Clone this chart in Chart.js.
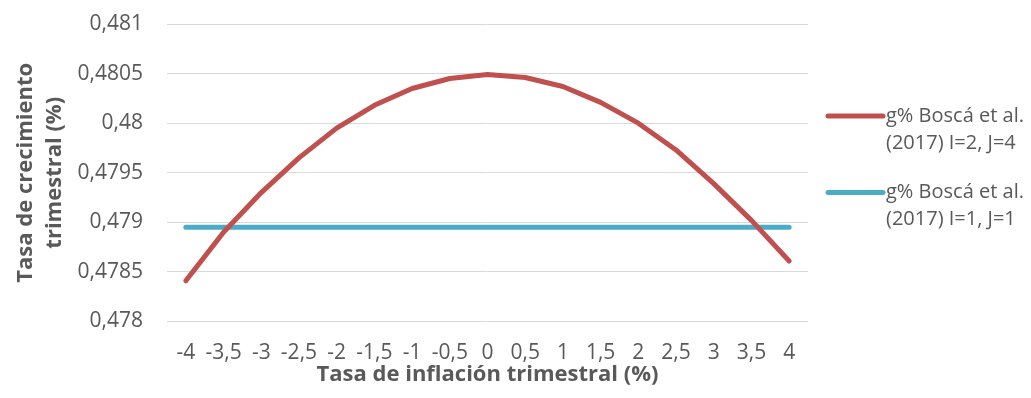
<!DOCTYPE html>
<html lang="es">
<head>
<meta charset="utf-8">
<title>Tasa de crecimiento trimestral</title>
<script src="https://cdn.jsdelivr.net/npm/chart.js@4/dist/chart.umd.min.js"></script>
<style>
  html, body { margin: 0; padding: 0; background: #ffffff; }
  #wrap { width: 1031px; height: 398px; position: relative; }
</style>
</head>
<body>
<div id="wrap"><canvas id="chart" width="1031" height="398"></canvas></div>
<script>
// Categorías: tasa de inflación trimestral (%)
const inflacion = ['-4', '-3,5', '-3', '-2,5', '-2', '-1,5', '-1', '-0,5', '0',
                   '0,5', '1', '1,5', '2', '2,5', '3', '3,5', '4'];

// g% Boscá et al. (2017) I=2, J=4
const crecimientoI2J4 = [0.47841, 0.47890, 0.47930, 0.47965, 0.47995, 0.48018, 0.48035, 0.48045, 0.48049,
                         0.48046, 0.48037, 0.48021, 0.48000, 0.47973, 0.47939, 0.47902, 0.47861];

// g% Boscá et al. (2017) I=1, J=1
const crecimientoI1J1 = [0.47895, 0.47895, 0.47895, 0.47895, 0.47895, 0.47895, 0.47895, 0.47895, 0.47895,
                         0.47895, 0.47895, 0.47895, 0.47895, 0.47895, 0.47895, 0.47895, 0.47895];

const etiquetasSeries = [
  ['g% Boscá et al.', '(2017) I=2, J=4'],
  ['g% Boscá et al.', '(2017) I=1, J=1']
];

const ejeY = { min: 0.478, max: 0.481, paso: 0.0005 };

const GRIS_TEXTO = '#595959';
const FUENTE = '"Open Sans", "DejaVu Sans", sans-serif';

const formatoDecimal = v => Number(v.toFixed(4)).toString().replace('.', ',');

// Leyenda a la derecha con etiquetas en dos líneas
const leyendaDerecha = {
  id: 'leyendaDerecha',
  afterDraw(chart) {
    const { ctx, chartArea } = chart;
    const x0 = chartArea.right + 20;
    const largo = 55;
    const salto = 27;
    const separacion = 76.5;
    const y0 = chartArea.top + 92;
    ctx.save();
    ctx.font = '20px ' + FUENTE;
    ctx.textBaseline = 'middle';
    ctx.textAlign = 'left';
    chart.data.datasets.forEach((ds, i) => {
      const y = y0 + i * separacion;
      ctx.strokeStyle = ds.borderColor;
      ctx.lineWidth = 5;
      ctx.lineCap = 'round';
      ctx.beginPath();
      ctx.moveTo(x0, y);
      ctx.lineTo(x0 + largo, y);
      ctx.stroke();
      ctx.fillStyle = GRIS_TEXTO;
      const lineas = Array.isArray(ds.label) ? ds.label : [ds.label];
      lineas.forEach((t, k) => ctx.fillText(t, x0 + largo + 3, y + k * salto));
    });
    ctx.restore();
  }
};

new Chart(document.getElementById('chart'), {
  type: 'line',
  data: {
    labels: inflacion,
    datasets: [
      {
        label: etiquetasSeries[0],
        data: crecimientoI2J4,
        borderColor: '#C0504D',
        backgroundColor: '#C0504D',
        borderWidth: 5,
        borderCapStyle: 'round',
        borderJoinStyle: 'round',
        pointRadius: 0,
        tension: 0,
        fill: false
      },
      {
        label: etiquetasSeries[1],
        data: crecimientoI1J1,
        borderColor: '#4BACC6',
        backgroundColor: '#4BACC6',
        borderWidth: 5,
        borderCapStyle: 'round',
        borderJoinStyle: 'round',
        pointRadius: 0,
        tension: 0,
        fill: false
      }
    ]
  },
  options: {
    responsive: false,
    animation: false,
    events: [],
    layout: { padding: { top: 24, right: 223, bottom: 0, left: 0 } },
    plugins: {
      legend: { display: false },
      tooltip: { enabled: false }
    },
    scales: {
      x: {
        type: 'category',
        offset: true,
        grid: { display: false, drawTicks: false },
        border: { display: false },
        ticks: {
          color: GRIS_TEXTO,
          font: { family: FUENTE, size: 21 },
          padding: 19,
          maxRotation: 0,
          autoSkip: false
        },
        title: {
          display: true,
          text: 'Tasa de inflación trimestral (%)',
          color: GRIS_TEXTO,
          font: { family: FUENTE, size: 22, weight: 'bold' },
          padding: { top: 0, bottom: 10 }
        },
        afterFit(scale) { scale.height = 76.5; }
      },
      y: {
        min: ejeY.min,
        max: ejeY.max,
        grid: { color: '#D9D9D9', lineWidth: 1, drawTicks: false },
        border: { display: false },
        ticks: {
          stepSize: ejeY.paso,
          color: GRIS_TEXTO,
          font: { family: FUENTE, size: 21 },
          padding: 24,
          callback: v => formatoDecimal(v)
        },
        title: {
          display: true,
          text: ['Tasa de crecimiento', 'trimestral (%)'],
          color: GRIS_TEXTO,
          font: { family: FUENTE, size: 22, weight: 'bold', lineHeight: 1.32 },
          padding: { top: 11, bottom: 0 }
        },
        afterFit(scale) {
          scale.width = 167;
          // the tick padding should not push the plot area down
          scale.paddingTop = 0;
          scale.paddingBottom = 0;
        }
      }
    }
  },
  plugins: [leyendaDerecha]
});
</script>
</body>
</html>
